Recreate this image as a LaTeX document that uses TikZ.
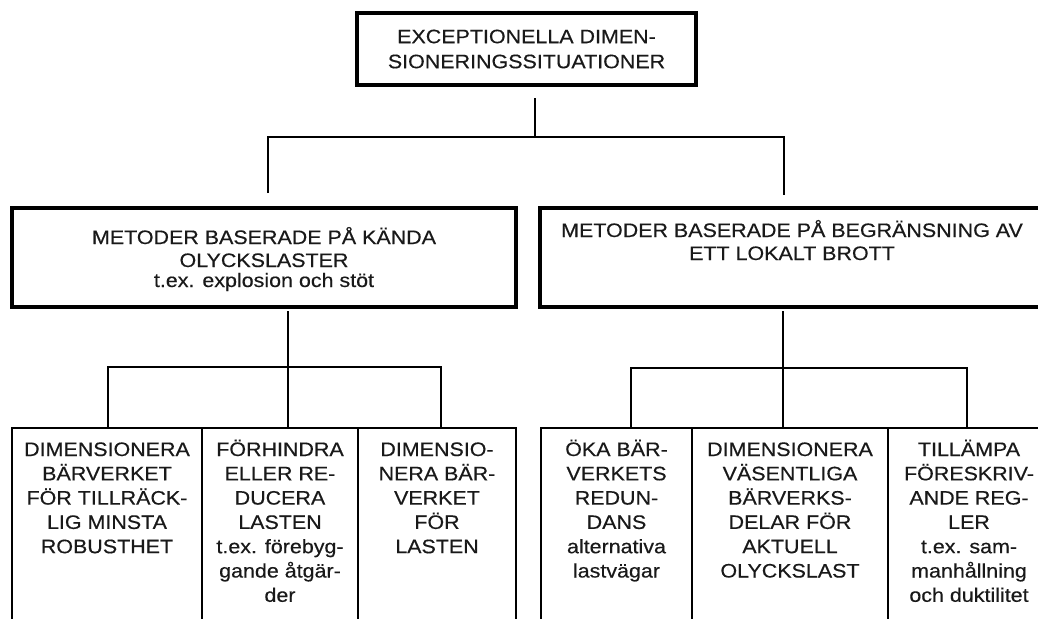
\documentclass[tikz,border=0pt]{standalone}
\usepackage{fontspec}
\setmainfont{Liberation Sans}[FakeStretch=1.1,FakeBold=0.4]
\begin{document}
\begin{tikzpicture}[x=1pt,y=-1pt,
  box/.style={draw, line width=3.5pt, rectangle, inner sep=0pt},
  cell/.style={draw, line width=2.8pt, rectangle, inner sep=0pt, minimum height=260pt},
  txt/.style={align=center, inner sep=0pt, anchor=base, text=black!90, font=\fontsize{19.5}{24.3}\selectfont},
  midtxt/.style={txt, font=\fontsize{19.5}{23}\selectfont},
  wire/.style={line width=2.6pt}]
\useasboundingbox (0,0) rectangle (1038,618);
\clip (0,0) rectangle (1038,618);

% top box
\node[box, line width=4pt, minimum width=339pt, minimum height=72pt, align=center,
      text=black!90, font=\fontsize{19.5}{25}\selectfont] (top) at (526.5,49)
  {EXCEPTIONELLA DIMEN-\\SIONERINGSSITUATIONER};

% middle boxes (text nodes anchored at the baseline of their last line)
\node[box, minimum width=504pt, minimum height=99pt] (ml) at (264,257.5) {};
\node[box, minimum width=506pt, minimum height=99pt] (mr) at (793,257.5) {};
\node[midtxt] (tml) at (264,287) {METODER BASERADE PÅ KÄNDA\\OLYCKSLASTER\\[-3pt]t.ex. explosion och stöt};
\node[midtxt] (tmr) at (792,260) {METODER BASERADE PÅ BEGRÄNSNING AV\\ETT LOKALT BROTT};

% bottom boxes
\node[cell, minimum width=190pt] (b1) at (107,558) {};
\node[cell, minimum width=156pt] (b2) at (280,558) {};
\node[cell, minimum width=158pt] (b3) at (437,558) {};
\node[cell, minimum width=151pt] (b4) at (616.5,558) {};
\node[cell, minimum width=196pt] (b5) at (790,558) {};
\node[cell, minimum width=162pt] (b6) at (969,558) {};

\node[txt] (t1) at (107,553.2) {DIMENSIONERA\\BÄRVERKET\\FÖR TILLRÄCK-\\LIG MINSTA\\ROBUSTHET};
\node[txt] (t2) at (280,601.8) {FÖRHINDRA\\ELLER RE-\\DUCERA\\LASTEN\\t.ex. förebyg-\\gande åtgär-\\der};
\node[txt] (t3) at (437,553.2) {DIMENSIO-\\NERA BÄR-\\VERKET\\FÖR\\LASTEN};
\node[txt] (t4) at (616.5,577.5) {ÖKA BÄR-\\VERKETS\\REDUN-\\DANS\\alternativa\\lastvägar};
\node[txt] (t5) at (790,577.5) {DIMENSIONERA\\VÄSENTLIGA\\BÄRVERKS-\\DELAR FÖR\\AKTUELL\\OLYCKSLAST};
\node[txt] (t6) at (969,601.8) {TILLÄMPA\\FÖRESKRIV-\\ANDE REG-\\LER\\t.ex. sam-\\manhållning\\och duktilitet};

% connectors top level
\coordinate (s0) at (535,98);
\coordinate (j0) at (535,137);
\coordinate (d1) at (268,193);
\coordinate (d2) at (784,195);
\draw[wire] (s0) -- (j0);
\draw[wire] (d1) |- (j0) -| (d2);

% connectors left
\coordinate (s1) at (288,311);
\coordinate (j1) at (288,367);
\coordinate (e1) at (288,427);
\coordinate (d3) at (108,427);
\coordinate (d4) at (441,427);
\draw[wire] (s1) -- (e1);
\draw[wire] (d3) |- (j1) -| (d4);

% connectors right
\coordinate (s2) at (783,311);
\coordinate (j2) at (783,368);
\coordinate (e2) at (783,427);
\coordinate (d5) at (631,427);
\coordinate (d6) at (967,427);
\draw[wire] (s2) -- (e2);
\draw[wire] (d5) |- (j2) -| (d6);
\end{tikzpicture}
\end{document}
